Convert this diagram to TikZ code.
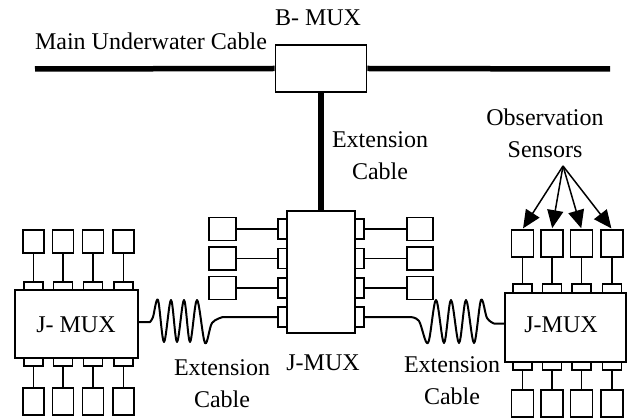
\documentclass[tikz,border=0pt]{standalone}
\usepackage{fontspec}
\setmainfont{Liberation Serif}
\usetikzlibrary{arrows.meta,calc}
\begin{document}
\begin{tikzpicture}[x=1pt,y=-1pt,
  lbl/.style={font=\fontsize{24}{32}\selectfont, inner sep=0pt},
  box/.style={draw, line width=1.6pt, fill=white, inner sep=0pt},
  cable/.style={line width=5.5pt},
  wire/.style={line width=1.6pt},
  spring/.style={line width=2pt, line join=round},
  sarrow/.style={line width=1.5pt, -{Triangle[length=18pt,width=16pt]}, shorten >=1pt}
]
\fill[white] (0,0) rectangle (628,419);
\useasboundingbox (0,0) rectangle (628,419);

% main cable and B-MUX
\coordinate (cabL) at (35,69);
\coordinate (cabR) at (610,69);
\node[box, minimum width=91pt, minimum height=47pt] (bmux) at (321,68.5) {};
\draw[cable] (cabL) -- (bmux.west);
\draw[cable] (bmux.east) -- (cabR);

% central J-MUX
\node[box, minimum width=68pt, minimum height=122pt] (cj) at (321,272) {};
\draw[cable] (bmux.south) -- (cj.north);
\foreach \i/\y in {1/229,2/258.5,3/288,4/317}{
  \node[box, minimum width=9pt, minimum height=20pt] (CPL\i) at (282.5,\y) {};
  \node[box, minimum width=9pt, minimum height=20pt] (CPR\i) at (359.5,\y) {};
}
\foreach \i/\y in {1/229,2/258.5,3/288}{
  \node[box, minimum width=27pt, minimum height=23pt] (CSL\i) at (222.5,\y) {};
  \node[box, minimum width=26pt, minimum height=23pt] (CSR\i) at (420,\y) {};
  \draw[wire] (CSL\i.east) -- (CPL\i.west);
  \draw[wire] (CPR\i.east) -- (CSR\i.west);
}

% left J-MUX
\node[box, minimum width=123pt, minimum height=68pt] (LJ) at (76.5,324) {};
\foreach \i/\x in {1/33.5,2/63,3/93,4/123.5}{
  \node[box, minimum width=19pt, minimum height=8pt] (LPt\i) at (\x,286) {};
  \node[box, minimum width=19pt, minimum height=8pt] (LPb\i) at (\x,362) {};
  \node[box, minimum width=21pt, minimum height=23pt] (LSt\i) at (\x,241.5) {};
  \node[box, minimum width=21pt, minimum height=27pt] (LSb\i) at (\x,401.5) {};
  \draw[wire] (LSt\i.south) -- (LPt\i.north);
  \draw[wire] (LPb\i.south) -- (LSb\i.north);
}

% right J-MUX
\node[box, minimum width=121pt, minimum height=69pt] (RJ) at (565.5,327.5) {};
\foreach \i/\x in {1/522.5,2/552,3/581.5,4/612}{
  \node[box, minimum width=19pt, minimum height=9pt] (RPt\i) at (\x,288.5) {};
  \node[box, minimum width=19pt, minimum height=8pt] (RPb\i) at (\x,366) {};
  \node[box, minimum width=22pt, minimum height=27pt] (RSt\i) at (\x,243.5) {};
  \node[box, minimum width=22pt, minimum height=27pt] (RSb\i) at (\x,403.5) {};
  \draw[wire] (RSt\i.south) -- (RPt\i.north);
  \draw[wire] (RPb\i.south) -- (RSb\i.north);
}

% extension cables (springs)
\draw[spring] ($(LJ.east)+(0,-2)$) -- (150,322)
  -- plot[smooth, tension=0.55] coordinates {(150,322) (153,317) (158,300) (164,342) (171,300) (177,342) (184,300) (190,342) (197,300) (205,343) (212,323) (223,317)}
  -- (CPL4.west);
\draw[spring] (CPR4.east) -- (410,317)
  -- plot[smooth, tension=0.55] coordinates {(410,317) (419,321) (428,343) (436,300) (444,343) (451,300) (459,343) (466,300) (474,343) (481,300) (487,318) (494,323.5)}
  -- ($(RJ.west)+(0,-4)$);

% observation sensor arrows
\coordinate (obs) at (563,166);
\foreach \i in {1,2,3,4}{
  \draw[sarrow] (obs) -- (RSt\i.north);
}

% labels
\node[lbl, anchor=base] (mainlbl) at (151,50) {Main Underwater Cable};
\node[lbl, anchor=base] (blbl) at (318,26) {B- MUX};
\node[lbl, align=center] (extv) at (380,156) {Extension\\Cable};
\node[lbl, anchor=base] (cjl) at (323,370) {J-MUX};
\node[lbl, align=center] (extl) at (222,384) {Extension\\Cable};
\node[lbl, align=center] (extr) at (452,381) {Extension\\Cable};
\node[lbl, anchor=base] (ljl) at (76,332) {J- MUX};
\node[lbl, anchor=base] (rjl) at (561,332) {J-MUX};
\node[lbl, align=center] (obsl) at (545,133) {Observation\\Sensors};
\end{tikzpicture}
\end{document}
